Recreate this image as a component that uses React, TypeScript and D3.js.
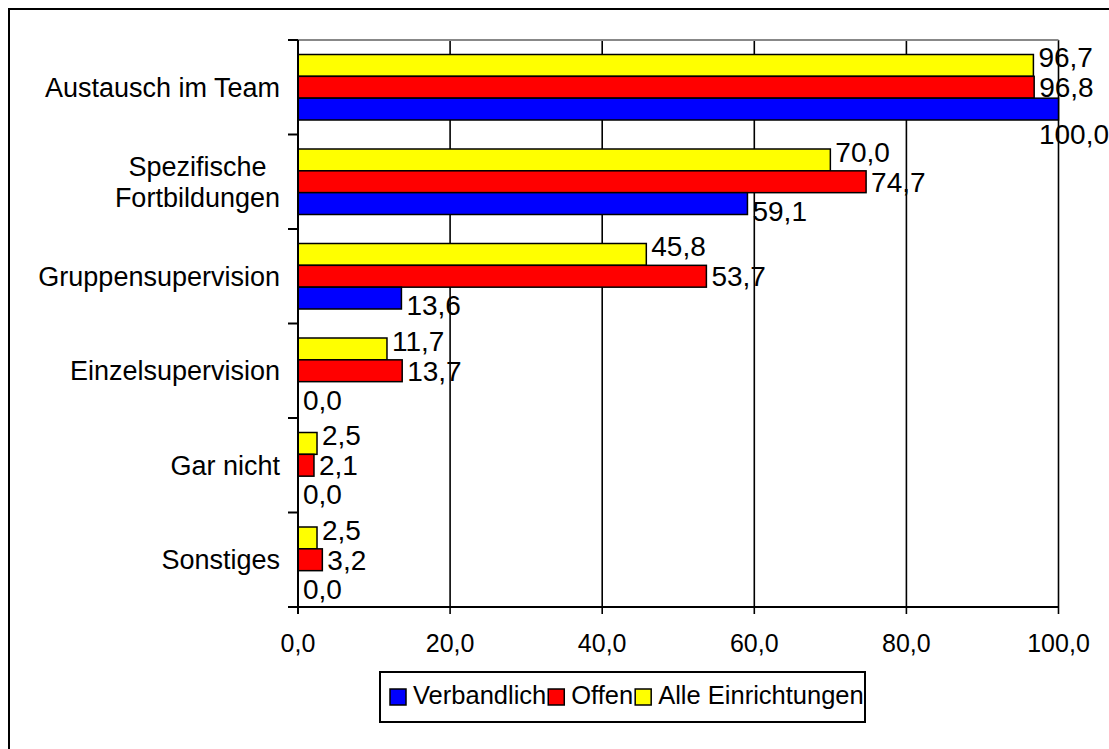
import React, { useEffect, useRef } from "react";
import * as d3 from "d3";

const categories = [
  "Austausch im Team",
  "Spezifische Fortbildungen",
  "Gruppensupervision",
  "Einzelsupervision",
  "Gar nicht",
  "Sonstiges",
];
const categoryLines = [
  ["Austausch im Team"],
  ["Spezifische", "Fortbildungen"],
  ["Gruppensupervision"],
  ["Einzelsupervision"],
  ["Gar nicht"],
  ["Sonstiges"],
];
const seriesNames = ["Verbandlich", "Offen", "Alle Einrichtungen"];
const seriesColors = ["#0000FF", "#FF0000", "#FFFF00"];
const verbandlich = [100.0, 59.1, 13.6, 0.0, 0.0, 0.0];
const offen = [96.8, 74.7, 53.7, 13.7, 2.1, 3.2];
const alle = [96.7, 70.0, 45.8, 11.7, 2.5, 2.5];
const xTicks = [0, 20, 40, 60, 80, 100];

const FONT = "'Liberation Sans', Arial, Helvetica, sans-serif";
const fmt = (v: number) => v.toFixed(1).replace(".", ",");

export default function App() {
  const ref = useRef<SVGSVGElement | null>(null);

  useEffect(() => {
    const svg = d3.select(ref.current);
    svg.selectAll("*").remove();

    const left = 298, right = 1058.5, top = 40, bottom = 607;

    // outer frame
    svg.append("rect").attr("x", 9).attr("y", 9).attr("width", 1120).attr("height", 760)
      .attr("fill", "#fff").attr("stroke", "#000").attr("stroke-width", 2);

    const x = d3.scaleLinear().domain([0, 100]).range([left, right]);
    const y = d3.scaleBand<number>().domain(d3.range(categories.length)).range([top, bottom]).padding(0);
    const bw = y.bandwidth();
    const inner = d3.scaleBand<number>().domain([2, 1, 0]).range([14.5, bw - 14.5]).padding(0);

    const g = svg.append("g");

    xTicks.forEach((t) => {
      if (t === 0) return;
      g.append("line").attr("x1", x(t)).attr("x2", x(t)).attr("y1", top).attr("y2", bottom + 7)
        .attr("stroke", "#000").attr("stroke-width", 1.6);
    });
    g.append("line").attr("x1", left).attr("x2", right).attr("y1", top).attr("y2", top)
      .attr("stroke", "#888").attr("stroke-width", 2);

    const seriesVals = [verbandlich, offen, alle];

    categories.forEach((_, ci) => {
      [2, 1, 0].forEach((si) => {
        const v = seriesVals[si][ci];
        const by = (y(ci) as number) + (inner(si) as number);
        if (v > 0) {
          g.append("rect").attr("x", x(0)).attr("y", by)
            .attr("width", x(v) - x(0)).attr("height", inner.bandwidth())
            .attr("fill", seriesColors[si]).attr("stroke", "#000").attr("stroke-width", 1.5);
        }
      });
    });

    g.append("line").attr("x1", left).attr("x2", left).attr("y1", top).attr("y2", bottom)
      .attr("stroke", "#000").attr("stroke-width", 2);
    d3.range(categories.length + 1).forEach((i) => {
      const yy = top + i * bw;
      g.append("line").attr("x1", left - 10).attr("x2", left).attr("y1", yy).attr("y2", yy)
        .attr("stroke", "#000").attr("stroke-width", 2);
    });
    g.append("line").attr("x1", left).attr("x2", right).attr("y1", bottom).attr("y2", bottom)
      .attr("stroke", "#000").attr("stroke-width", 2);
    g.append("line").attr("x1", left).attr("x2", left).attr("y1", bottom).attr("y2", bottom + 7)
      .attr("stroke", "#000").attr("stroke-width", 2);

    xTicks.forEach((t) => {
      g.append("text").attr("x", x(t)).attr("y", 652).attr("text-anchor", "middle")
        .attr("font-family", FONT).attr("font-size", 25).attr("fill", "#000").text(fmt(t));
    });

    categoryLines.forEach((lines, ci) => {
      const cy = (y(ci) as number) + bw / 2;
      const lh = 31;
      const texts = lines.map((ln, li) => {
        const baseline = cy + 9.5 + (li - (lines.length - 1) / 2) * lh;
        return g.append("text").attr("y", baseline)
          .attr("font-family", FONT).attr("font-size", 27).attr("fill", "#000").text(ln);
      });
      const widths = texts.map((t) => (t.node() as SVGTextElement).getComputedTextLength());
      const maxW = Math.max(...widths);
      const rightEdge = 280;
      texts.forEach((t, i) => t.attr("x", rightEdge - maxW / 2 - widths[i] / 2));
    });

    const yOff: Record<number, number> = { 2: 2, 1: 10, 0: 17 };
    categories.forEach((_, ci) => {
      [2, 1, 0].forEach((si) => {
        const v = seriesVals[si][ci];
        const by = (y(ci) as number) + (inner(si) as number);
        const cy = by + inner.bandwidth() / 2;
        const end = x(v);
        const t = g.append("text").attr("font-family", FONT).attr("font-size", 28)
          .attr("fill", "#000").text(fmt(v));
        const w = (t.node() as SVGTextElement).getComputedTextLength();
        let tx = end + 5;
        let ty = cy + yOff[si];
        if (tx + w > 1109) {
          tx = 1109 - w;
          if (tx < end) ty = by + inner.bandwidth() + 24;
        }
        t.attr("x", tx).attr("y", ty);
      });
    });

    const lg = svg.append("g");
    lg.append("rect").attr("x", 380).attr("y", 672).attr("width", 485).attr("height", 50)
      .attr("fill", "#fff").attr("stroke", "#000").attr("stroke-width", 2);
    let lx = 390;
    seriesNames.forEach((name, si) => {
      lg.append("rect").attr("x", lx).attr("y", 689).attr("width", 16).attr("height", 16)
        .attr("fill", seriesColors[si]).attr("stroke", "#000").attr("stroke-width", 1.5);
      const t = lg.append("text").attr("x", lx + 23).attr("y", 703.5)
        .attr("font-family", FONT).attr("font-size", 25.5).attr("fill", "#000").text(name);
      const w = (t.node() as SVGTextElement).getComputedTextLength();
      lx = lx + 23 + w + 2;
    });
  }, []);

  return (
    <svg
      ref={ref}
      width={1109}
      height={749}
      style={{ position: "absolute", left: 0, top: 0, display: "block", background: "#fff" }}
    />
  );
}
